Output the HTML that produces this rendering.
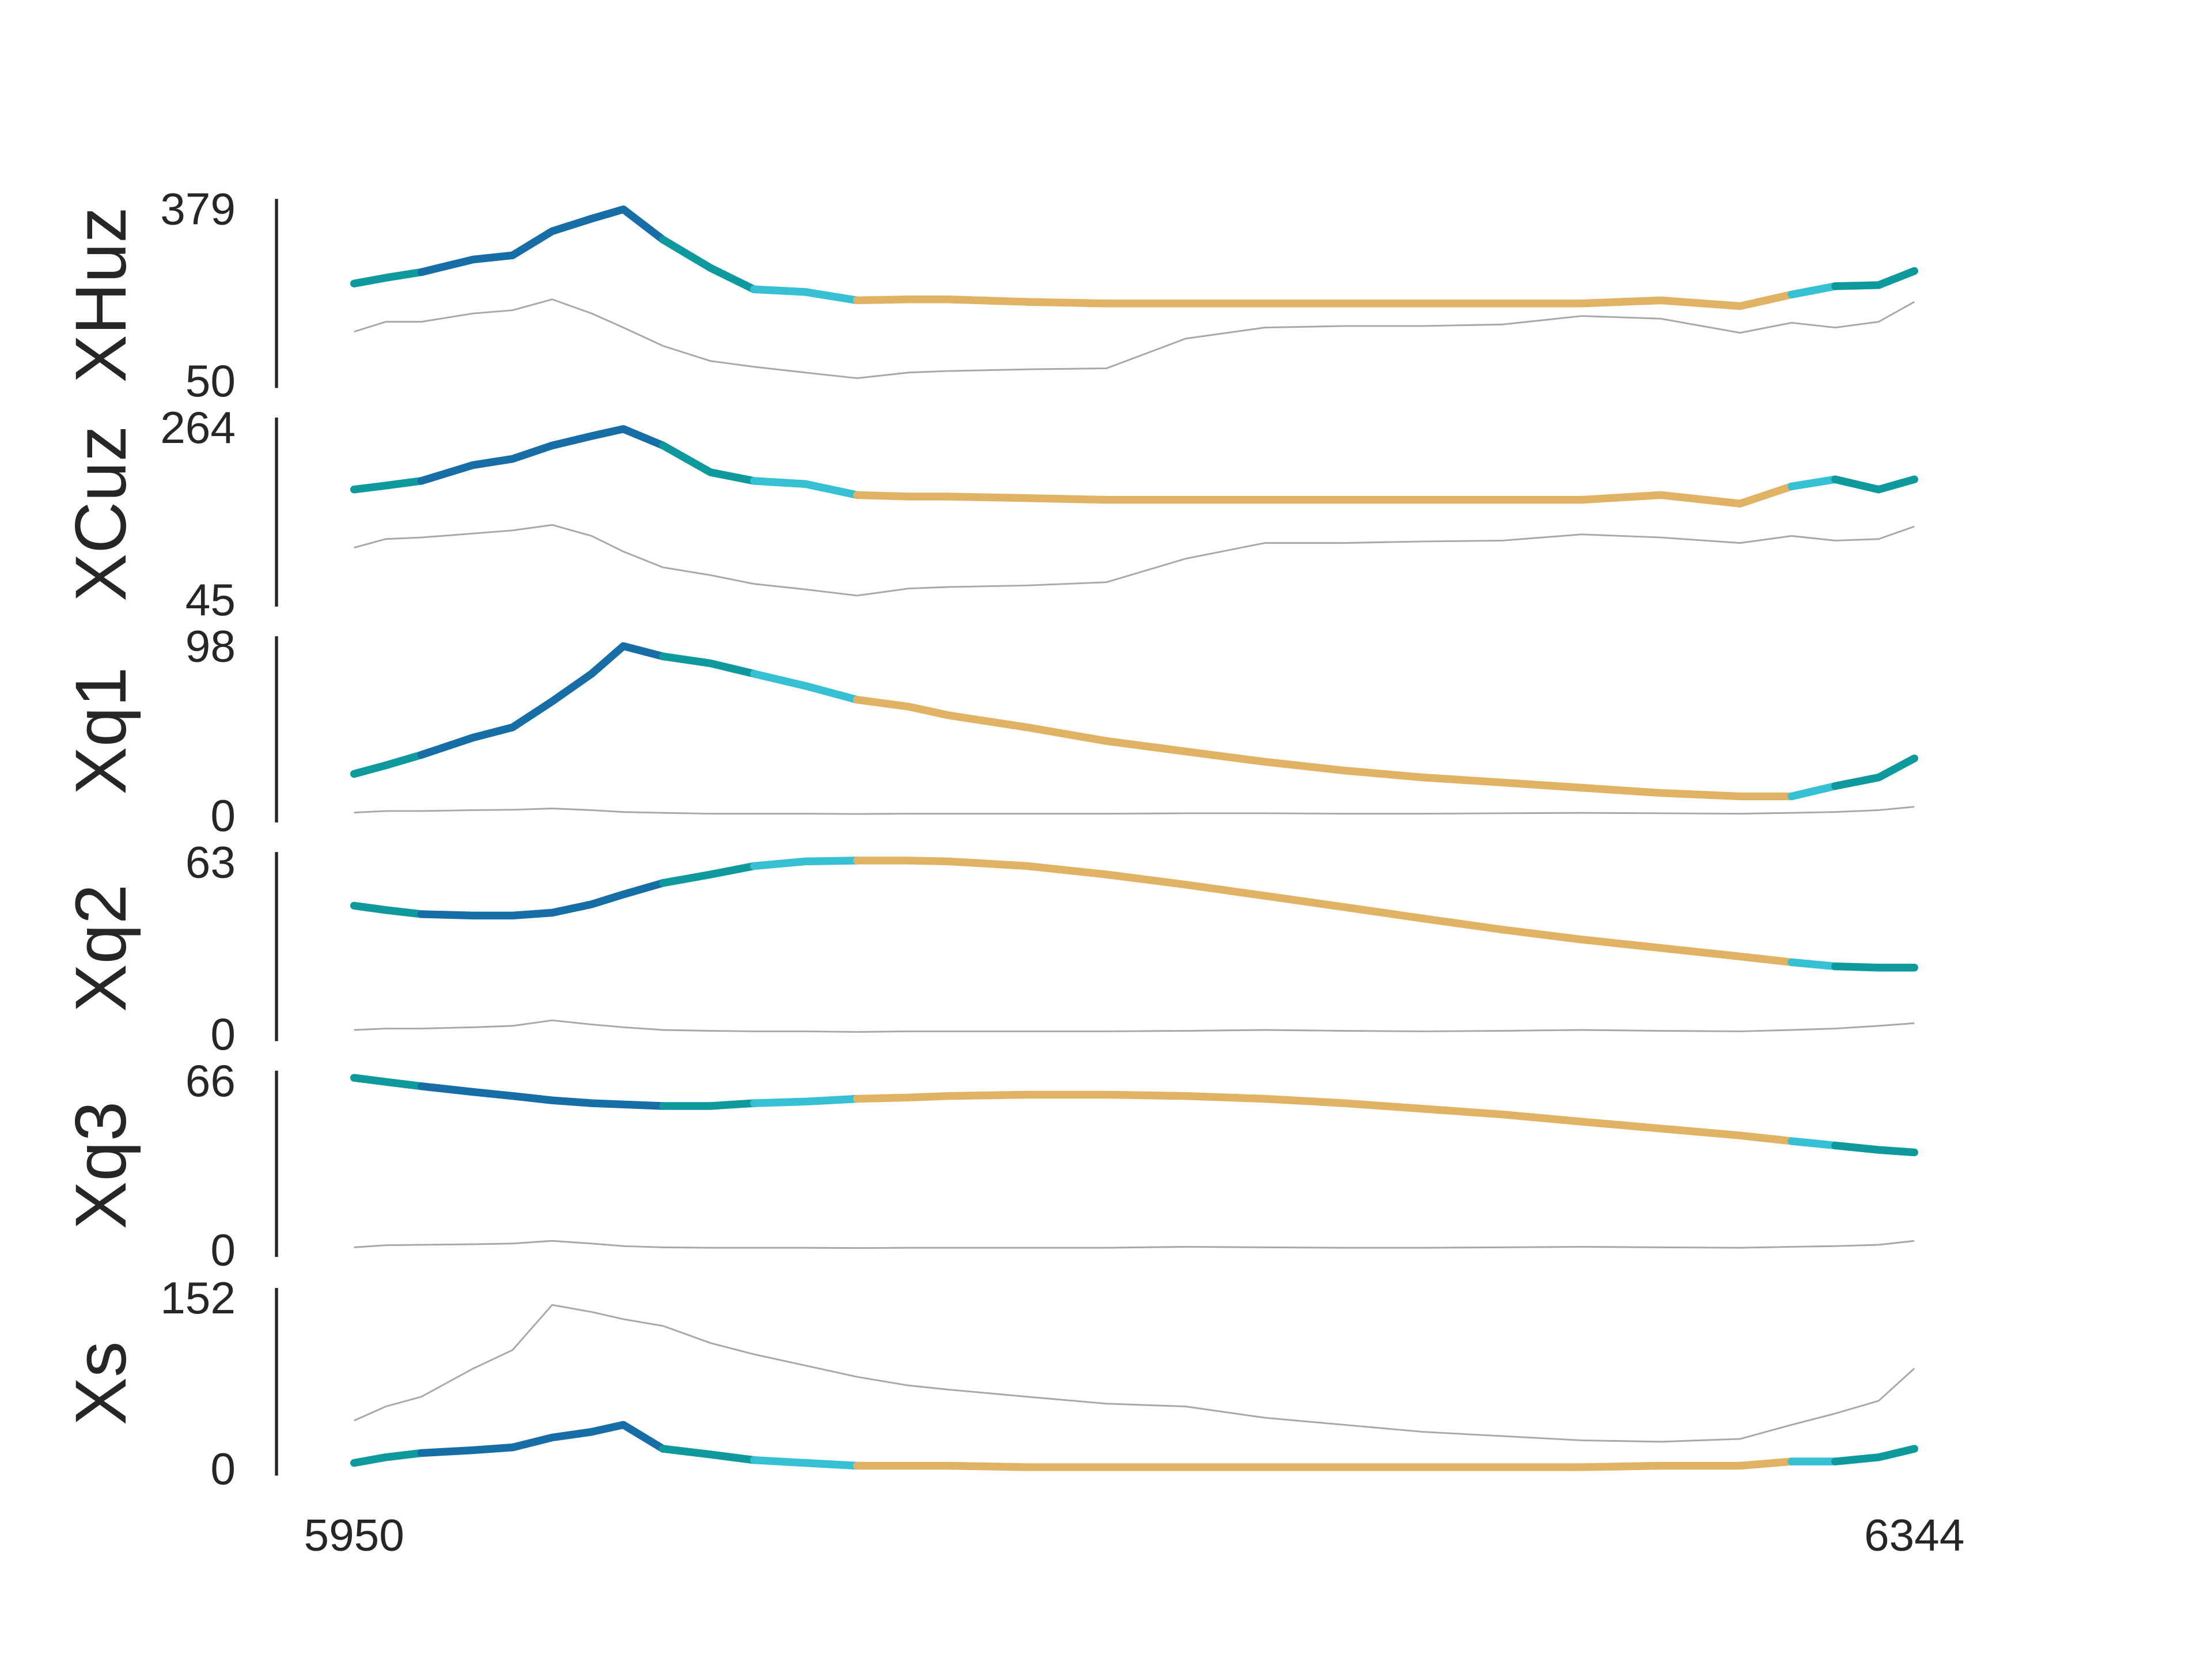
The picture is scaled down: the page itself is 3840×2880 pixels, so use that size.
<!DOCTYPE html>
<html><head><meta charset="utf-8"><style>
html,body{margin:0;padding:0;background:#fff;}
svg{display:block;}
text{font-family:"Liberation Sans",sans-serif;fill:#262626;}
</style></head><body>
<svg id="chart" width="3840" height="2880" viewBox="0 0 1568 1176" xmlns="http://www.w3.org/2000/svg"></svg>
<script>
const times=[5950,5958,5967,5980,5990,6000,6010,6018,6028,6040,6051,6064,6077,6090,6100,6120,6140,6160,6180,6200,6220,6240,6260,6280,6300,6313,6324,6335,6344];
const breaks=[5950,5967,6028,6051,6077,6313,6324,6344];
const segColors=["#0e9a9c","#176ea6","#0e9a9c","#36c0d3","#e0b364","#36c0d3","#0e9a9c"];
const xTicks=[5950,6344];
const panelNames=["XHuz","XCuz","Xq1","Xq2","Xq3","Xs"];
const panelMin=[50,45,0,0,0,0];
const panelMax=[379,264,98,63,66,152];
const mainXHuz=[236,247,258,282,290,336,360,378,320,266,225,220,204,206,206,201,198,198,198,198,198,198,198,204,193,215,231,233,260];
const grayXHuz=[144,163,163,179,185,206,179,152,117,88,77,66,55,66,69,72,74,131,152,155,155,158,174,169,142,161,152,163,201];
const mainXCuz=[185,190,196,216,224,241,253,262,241,207,196,192,178,176,176,174,172,172,172,172,172,172,172,178,167,189,198,185,198];
const grayXCuz=[111,122,124,129,133,140,126,106,86,76,65,58,50,59,61,63,67,97,117,117,119,120,128,124,117,126,120,122,138];
const mainXq1=[24,29,35,45,51,66,82,98,92,88,82,75,67,63,58,51,43,37,31,26,22,19,16,13,11,11,17,22,33];
const grayXq1=[1.6,2.5,2.5,3,3.3,4,3,2,1.5,1,1,1,0.8,1,1,1,1,1.2,1.2,1,1,1.2,1.5,1.2,1,1.5,2,3,5];
const mainXq2=[47,45.4,43.9,43.4,43.4,44.4,47.5,51.1,55.3,58.4,61.5,63.2,63.5,63.5,63.2,61.5,58.4,54.7,50.6,46.5,42.3,38.2,34.6,31.5,28.4,26.3,24.8,24.3,24.3];
const grayXq2=[1.5,2,2,2.5,3,5,3.5,2.5,1.5,1.2,1,1,0.8,1,1,1,1,1.2,1.5,1.2,1,1.2,1.5,1.2,1,1.5,2,3,4];
const mainXq3=[67.1,65.5,63.8,61.6,60,58.3,57.2,56.7,56.1,56.1,57.2,57.8,58.9,59.4,60,60.5,60.5,60,58.9,57.2,55,52.8,50,47.3,44.6,42.4,40.7,39,38];
const grayXq3=[1,1.8,2,2.2,2.5,3.5,2.5,1.5,1,0.8,0.8,0.8,0.7,0.8,0.8,0.8,0.8,1.2,1,0.8,0.8,1,1.2,1,0.8,1.2,1.5,2,3.5];
const mainXs=[5,10,13.8,16.3,18.8,27.6,32.7,39,17.6,12.6,7.5,5,2.5,2.5,2.5,1.3,1.3,1.3,1.3,1.3,1.3,1.3,1.3,2.5,2.5,6.3,6.3,10,17.6];
const grayXs=[42.7,55.3,64,89,105.5,145.7,139.4,133,127,111.8,101.7,91.7,81.6,74,70.3,64,57.8,55.3,45.2,39,32.7,28.9,25.1,23.9,26.4,39,49,60.3,89.2];
const mains=[mainXHuz,mainXCuz,mainXq1,mainXq2,mainXq3,mainXs];
const grays=[grayXHuz,grayXCuz,grayXq1,grayXq2,grayXq3,grayXs];

const svg=document.getElementById('chart');
const NS="http://www.w3.org/2000/svg";
const X0=251,X1=1357;
const topPix=[148,303,458,611,766,920], botPix=[270,425,578,733,886,1041];
function xs(t){return X0+(t-xTicks[0])/(xTicks[1]-xTicks[0])*(X1-X0);}
function ys(p,v){return botPix[p]-(v-panelMin[p])/(panelMax[p]-panelMin[p])*(botPix[p]-topPix[p]);}
function mk(tag,attrs){const e=document.createElementNS(NS,tag);for(const k in attrs)e.setAttribute(k,attrs[k]);svg.appendChild(e);return e;}
function segPath(p,arr,a,b){let d="";times.forEach((t,i)=>{if(t>=a&&t<=b){d+=(d?"L":"M")+xs(t).toFixed(1)+","+ys(p,arr[i]).toFixed(1);}});return d;}

for(let p=0;p<6;p++){
  const sp=mk('line',{x1:196,x2:196,y1:topPix[p]-7,y2:botPix[p]+5,stroke:'#262626','stroke-width':2.2});
  
  
  const tt=mk('text',{x:167,y:topPix[p]+11,'text-anchor':'end','font-size':32});
  tt.textContent=panelMax[p];
  
  
  const tb=mk('text',{x:167,y:botPix[p]+11,'text-anchor':'end','font-size':32});
  tb.textContent=panelMin[p];
  
  
  const cy=(topPix[p]+botPix[p])/2;
  const lab=mk('text',{x:89,y:cy,'text-anchor':'middle','font-size':51,transform:'rotate(-90 89 '+cy+')'});
  lab.textContent=panelNames[p];
  
  
  for(let s=0;s<segColors.length;s++){
    const g=mk('path',{d:segPath(p,grays[p],breaks[s],breaks[s+1]),fill:'none',stroke:'#a8a8a8','stroke-width':1.2});
    
    
  }
  for(let s=0;s<segColors.length;s++){
    const m=mk('path',{d:segPath(p,mains[p],breaks[s],breaks[s+1]),fill:'none',stroke:segColors[s],'stroke-width':5.5,'stroke-linecap':'round','stroke-linejoin':'round'});
    
    
  }
}
xTicks.forEach(t=>{
  const e=mk('text',{x:xs(t),y:1099,'text-anchor':'middle','font-size':32});
  e.textContent=t;
  
  
});
</script>
</body></html>
